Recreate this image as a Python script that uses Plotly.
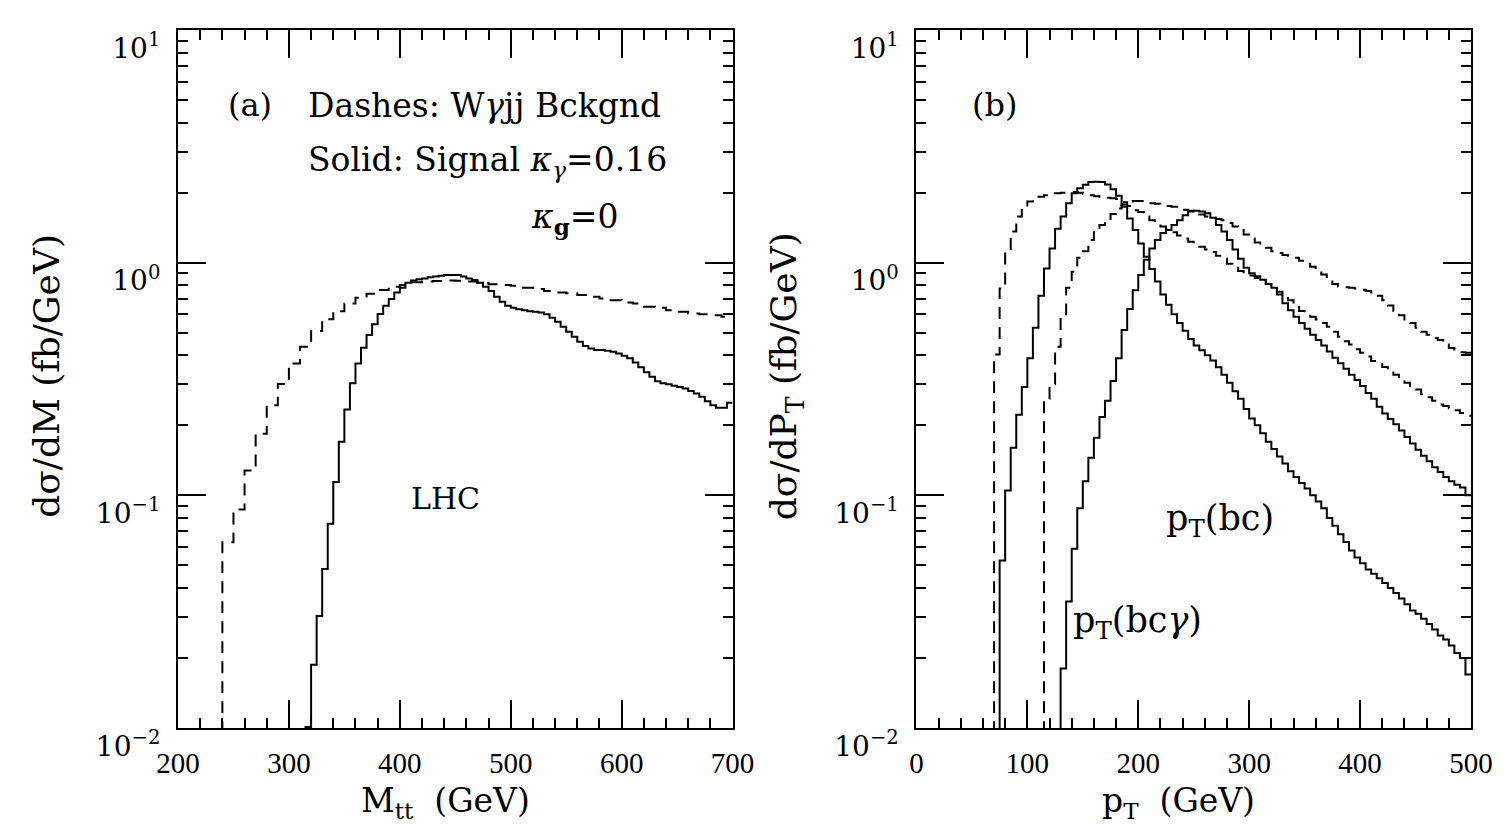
import numpy as np
import plotly.graph_objects as go

# ---------------- data ----------------
# Left panel (a): M_tt distributions
mtt_bkg_start, mtt_bkg_width = 240, 10
mtt_bkg = [0.0628, 0.087, 0.128, 0.184, 0.244, 0.301, 0.369, 0.435, 0.508, 0.571,
           0.619, 0.668, 0.707, 0.735, 0.763, 0.788, 0.801, 0.823, 0.829, 0.834,
           0.839, 0.837, 0.829, 0.820, 0.807, 0.801, 0.796, 0.780, 0.770, 0.755,
           0.745, 0.738, 0.726, 0.714, 0.702, 0.690, 0.675, 0.668, 0.647, 0.640,
           0.625, 0.615, 0.605, 0.600, 0.595, 0.586]
mtt_sig_start, mtt_sig_width = 315, 5
mtt_sig = [0.0101, 0.0187, 0.0303, 0.0482, 0.0755, 0.114, 0.170, 0.234, 0.303, 0.369,
           0.431, 0.489, 0.543, 0.601, 0.653, 0.698, 0.745, 0.780, 0.820, 0.839,
           0.848, 0.856, 0.865, 0.873, 0.879, 0.885, 0.885, 0.885, 0.873, 0.856,
           0.842, 0.820, 0.788, 0.755, 0.714, 0.680, 0.653, 0.640, 0.630, 0.624,
           0.619, 0.615, 0.611, 0.600, 0.580, 0.557, 0.531, 0.505, 0.480, 0.457,
           0.438, 0.428, 0.421, 0.421, 0.418, 0.414, 0.407, 0.398, 0.388, 0.372,
           0.355, 0.338, 0.323, 0.309, 0.303, 0.300, 0.296, 0.292, 0.288, 0.281,
           0.274, 0.265, 0.254, 0.244, 0.238, 0.238, 0.250]

# Right panel (b): p_T distributions (5 GeV bins)
pt_width = 5
bkg_bc_start = 70
bkg_bc = [0.403, 0.775, 1.11, 1.36, 1.58, 1.74, 1.83, 1.90, 1.92, 1.95,
          1.99, 1.99, 2.00, 2.00, 2.01, 2.00, 1.98, 1.95, 1.93, 1.92,
          1.90, 1.89, 1.88, 1.82, 1.75, 1.68, 1.65, 1.58, 1.52, 1.48,
          1.43, 1.39, 1.35, 1.31, 1.27, 1.23, 1.20, 1.17, 1.14, 1.11,
          1.07, 1.04, 0.99, 0.95, 0.92, 0.89, 0.88, 0.86, 0.84, 0.81,
          0.78, 0.75, 0.72, 0.69, 0.655, 0.62, 0.60, 0.585, 0.57, 0.55,
          0.53, 0.505, 0.48, 0.46, 0.445, 0.425, 0.41, 0.395, 0.378, 0.368,
          0.356, 0.345, 0.33, 0.318, 0.305, 0.295, 0.285, 0.272, 0.264, 0.255,
          0.246, 0.242, 0.237, 0.232, 0.226, 0.22]
bkg_bcg_start = 115
bkg_bcg = [0.26, 0.30, 0.435, 0.60, 0.78, 0.915, 1.05, 1.12, 1.25, 1.38,
           1.45, 1.52, 1.62, 1.71, 1.78, 1.83, 1.84, 1.84, 1.82, 1.80,
           1.79, 1.77, 1.75, 1.74, 1.72, 1.69, 1.67, 1.65, 1.61, 1.58,
           1.56, 1.54, 1.52, 1.48, 1.43, 1.38, 1.32, 1.27, 1.22, 1.18,
           1.16, 1.12, 1.10, 1.08, 1.06, 1.05, 1.02, 0.99, 0.96, 0.92,
           0.89, 0.85, 0.81, 0.79, 0.785, 0.78, 0.775, 0.765, 0.755, 0.745,
           0.72, 0.69, 0.655, 0.62, 0.595, 0.57, 0.55, 0.525, 0.505, 0.49,
           0.475, 0.465, 0.445, 0.43, 0.418, 0.412, 0.41]
sig_bc_start = 75
sig_bc = [0.0525, 0.105, 0.160, 0.222, 0.292, 0.388, 0.525, 0.72, 0.945, 1.15,
          1.40, 1.58, 1.80, 1.99, 2.09, 2.16, 2.22, 2.23, 2.22, 2.17,
          2.07, 1.94, 1.74, 1.55, 1.38, 1.21, 1.06, 0.94, 0.83, 0.73,
          0.66, 0.60, 0.55, 0.51, 0.47, 0.44, 0.42, 0.40, 0.38, 0.355,
          0.33, 0.305, 0.28, 0.26, 0.235, 0.214, 0.20, 0.185, 0.17, 0.158,
          0.147, 0.137, 0.127, 0.12, 0.113, 0.107, 0.100, 0.094, 0.088, 0.080,
          0.074, 0.068, 0.063, 0.058, 0.054, 0.051, 0.048, 0.046, 0.044, 0.042,
          0.040, 0.038, 0.036, 0.034, 0.032, 0.031, 0.0295, 0.028, 0.0265, 0.025,
          0.024, 0.0226, 0.021, 0.020, 0.017]
sig_bcg_start = 130
sig_bcg = [0.018, 0.035, 0.059, 0.088, 0.115, 0.145, 0.177, 0.217, 0.255, 0.31,
           0.388, 0.513, 0.632, 0.762, 0.885, 1.03, 1.15, 1.25, 1.34, 1.38,
           1.45, 1.52, 1.60, 1.66, 1.67, 1.66, 1.63, 1.56, 1.45, 1.36,
           1.25, 1.14, 1.04, 0.95, 0.90, 0.875, 0.845, 0.81, 0.78, 0.73,
           0.67, 0.625, 0.585, 0.55, 0.52, 0.49, 0.465, 0.44, 0.415, 0.39,
           0.37, 0.35, 0.33, 0.313, 0.295, 0.275, 0.26, 0.24, 0.225, 0.213,
           0.202, 0.19, 0.178, 0.167, 0.157, 0.148, 0.14, 0.132, 0.126, 0.12,
           0.115, 0.111, 0.108, 0.10]

y_tickvals = [0.01, 0.1, 1, 10]
y_ticktext = ["10<sup>\u22122</sup>", "10<sup>\u22121</sup>", "10<sup>0</sup>", "10<sup>1</sup>"]
y_minor = [m * d for d in (0.01, 0.1, 1) for m in range(2, 10)]

FLOOR = 1e-4
FONT = "Liberation Serif"
TFONT = "DejaVu Serif"


def step_xy(start, width, vals):
    edges = start + width * np.arange(len(vals) + 1)
    x = [edges[0]] + list(edges)
    y = [FLOOR] + list(vals) + [vals[-1]]
    return x, y


fig = go.Figure()


def add_hist(start, width, vals, dashed, xa, ya):
    x, y = step_xy(start, width, vals)
    fig.add_trace(go.Scatter(
        x=x, y=y, mode="lines", line_shape="hv",
        line=dict(color="black", width=2, dash="12px,8px" if dashed else "solid"),
        xaxis=xa, yaxis=ya, showlegend=False, hoverinfo="skip"))


add_hist(mtt_bkg_start, mtt_bkg_width, mtt_bkg, True, "x", "y")
add_hist(mtt_sig_start, mtt_sig_width, mtt_sig, False, "x", "y")
add_hist(bkg_bc_start, pt_width, bkg_bc, True, "x2", "y2")
add_hist(bkg_bcg_start, pt_width, bkg_bcg, True, "x2", "y2")
add_hist(sig_bc_start, pt_width, sig_bc, False, "x2", "y2")
add_hist(sig_bcg_start, pt_width, sig_bcg, False, "x2", "y2")

W, H = 1505, 825
ML, MT = 178, 30
MR = W - 1479
MB = H - 728
PW, PH = W - ML - MR, H - MT - MB

xtickfont = dict(family=FONT, size=29, color="black")
ytickfont = dict(family=TFONT, size=28, color="black")
common_x = dict(showline=True, linewidth=2, linecolor="black", mirror="allticks",
                ticks="inside", ticklen=28, tickwidth=1.5, tickcolor="black",
                showgrid=False, zeroline=False, tickfont=xtickfont, dtick=100,
                ticklabelstandoff=8,
                minor=dict(ticks="inside", ticklen=10, tickwidth=1.5, tickcolor="black",
                           dtick=20, showgrid=False))
common_y = dict(type="log", range=[-2, 1], showline=True, linewidth=2, linecolor="black",
                mirror="allticks", ticks="inside", ticklen=28, tickwidth=1.5,
                tickcolor="black", showgrid=False, zeroline=False, tickfont=ytickfont,
                tickmode="array", tickvals=y_tickvals, ticktext=y_ticktext,
                ticklabelshift=18, ticklabelstandoff=10,
                minor=dict(ticks="inside", ticklen=10, tickwidth=1.5, tickcolor="black",
                           tickmode="array", tickvals=y_minor, showgrid=False))

x1_dom = [0, (736 - ML) / PW]
x2_dom = [(921 - ML) / PW, 1]

fig.update_layout(
    width=W, height=H,
    margin=dict(l=ML, r=MR, t=MT, b=MB),
    paper_bgcolor="white", plot_bgcolor="white",
    xaxis=dict(domain=x1_dom, range=[200, 700], anchor="y", **common_x),
    yaxis=dict(domain=[0, 1], anchor="x", **common_y),
    xaxis2=dict(domain=x2_dom, range=[0, 500], anchor="y2", **common_x),
    yaxis2=dict(domain=[0, 1], anchor="x2", **common_y),
    font=dict(family=FONT, color="black"),
)


def px(x):
    return (x - ML) / PW


def py(y):
    return (H - MB - y) / PH


def note(text, x, y, size=32, xanchor="left", angle=0, family=TFONT):
    fig.add_annotation(text=text, x=px(x), y=py(y), xref="paper", yref="paper",
                       xanchor=xanchor, yanchor="middle", showarrow=False,
                       textangle=angle, font=dict(family=family, size=size, color="black"))


note("(a)", 226, 105)
note("Dashes: W<i>\u03b3</i>jj Bckgnd", 307, 105, size=33)
note("Solid: Signal <i>\u03ba</i><sub><i>\u03b3</i></sub>=0.16", 307, 162, size=33)
note("<i>\u03ba</i><sub><b>g</b></sub>=0", 531, 218, size=33)
note("LHC", 410, 498, size=30)
note("(b)", 975, 105)
note("p<sub>T</sub>(bc)", 1170, 520, size=35)
note("p<sub>T</sub>(bc<i>\u03b3</i>)", 1077, 622, size=35)

note("d\u03c3/dM (fb/GeV)", 45, 376, size=36, xanchor="center", angle=-90)
note("d\u03c3/dP<sub>T</sub> (fb/GeV)", 790, 376, size=36, xanchor="center", angle=-90)
note("M<sub>tt</sub>&nbsp; (GeV)", 447, 803, size=33, xanchor="center")
note("p<sub>T</sub>&nbsp; (GeV)", 1185, 803, size=33, xanchor="center")

fig.write_html(
    "out.html",
    config={"displayModeBar": False},
    post_script="document.body.style.margin='0px';document.body.style.overflow='hidden';",
)
